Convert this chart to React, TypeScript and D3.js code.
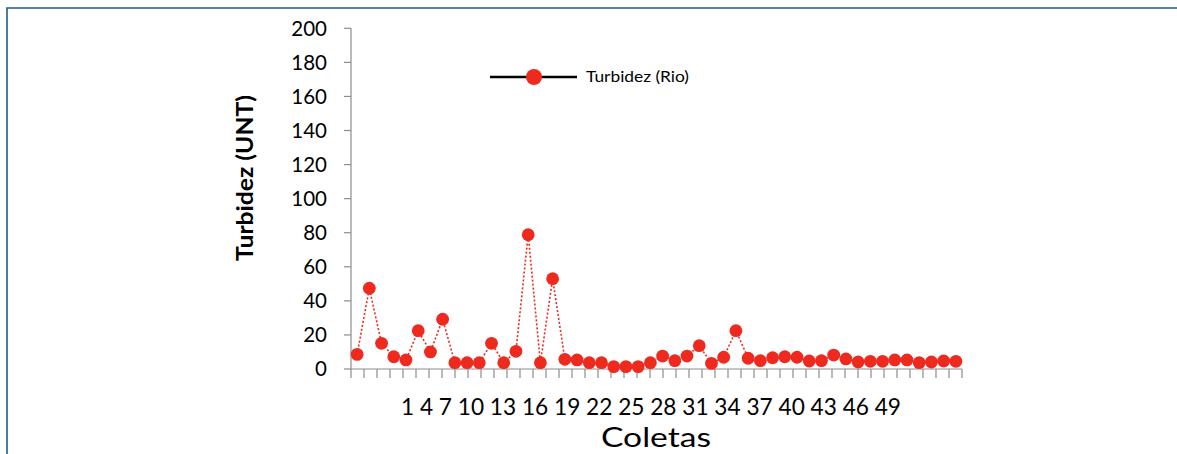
import React from "react";
import * as d3 from "d3";

const values: number[] = [
  8.6, 47.4, 15.1, 7.2, 5.3, 22.5, 10, 29.2, 3.7, 3.7,
  3.7, 15.1, 3.7, 10.4, 78.8, 3.7, 53, 5.7, 5.3, 3.7,
  3.7, 1.4, 1.4, 1.4, 3.7, 7.6, 4.9, 7.6, 13.7, 3.3,
  6.9, 22.5, 6.3, 4.9, 6.6, 7.2, 6.9, 4.7, 4.9, 8.2,
  5.9, 4.1, 4.5, 4.5, 5.3, 5.3, 3.7, 4.1, 4.7, 4.5,
];
const xTickLabels: string[] = [
  "1", "4", "7", "10", "13", "16", "19", "22", "25", "28", "31", "34", "37", "40", "43", "46", "49",
];
const yTicks: number[] = [0, 20, 40, 60, 80, 100, 120, 140, 160, 180, 200];
const tickCount = 48;
const seriesName = "Turbidez (Rio)";
const yTitle = "Turbidez (UNT)";
const xTitle = "Coletas";

const W = 1177;
const H = 454;
const x0 = 351;
const x1 = 962;
const yBottom = 369;
const yTop = 28.3;
const red = "#ee2a1f";
const axisColor = "#8c8c8c";
const font = "Lato, 'Open Sans', sans-serif";

export default function App() {
  const x = d3
    .scaleBand<number>()
    .domain(d3.range(values.length))
    .range([x0, x1]);
  const cx = (i: number) => (x(i) as number) + x.bandwidth() / 2;
  const y = d3.scaleLinear().domain([0, 200]).range([yBottom, yTop]);
  const tickX = d3.scaleLinear().domain([0, tickCount - 1]).range([x0, x1]);
  const line = d3
    .line<number>()
    .x((_, i) => cx(i))
    .y((d) => y(d));

  return (
    <svg
      width={W}
      height={H}
      style={{ position: "fixed", left: 0, top: 0, background: "#fff" }}
    >
      <rect x={0} y={0} width={W} height={H} fill="#fff" />
      <path
        d={`M7,${H + 5} L7,8 L${W + 5},8`}
        fill="none"
        stroke="#1f5b89"
        strokeWidth={1.6}
      />
      {/* Y axis */}
      <line x1={x0} x2={x0} y1={yTop} y2={yBottom} stroke={axisColor} strokeWidth={1.2} />
      {yTicks.map((t) => (
        <g key={t}>
          <line x1={x0 - 7} x2={x0} y1={y(t)} y2={y(t)} stroke={axisColor} strokeWidth={1.2} />
          <text
            x={327}
            y={y(t)}
            dy="0.36em"
            textAnchor="end"
            fontFamily={font}
            fontSize={20.5}
            fill="#000"
          >
            {t}
          </text>
        </g>
      ))}
      {/* X axis */}
      <line x1={x0} x2={x1} y1={yBottom} y2={yBottom} stroke={axisColor} strokeWidth={1.2} />
      {d3.range(tickCount).map((i) => (
        <line
          key={i}
          x1={tickX(i)}
          x2={tickX(i)}
          y1={yBottom}
          y2={yBottom + 9}
          stroke={axisColor}
          strokeWidth={1.2}
        />
      ))}
      <text
        x={651}
        y={415}
        textAnchor="middle"
        fontFamily={font}
        fontSize={22.5}
        textLength={500}
        lengthAdjust="spacingAndGlyphs"
        fill="#000"
      >
        {xTickLabels.join(" ")}
      </text>
      <text
        x={656}
        y={447}
        textAnchor="middle"
        fontFamily={font}
        fontSize={27}
        textLength={110}
        lengthAdjust="spacingAndGlyphs"
        fill="#000"
      >
        {xTitle}
      </text>
      <text
        transform={`translate(253,178) rotate(-90)`}
        textAnchor="middle"
        fontFamily={font}
        fontSize={22}
        fontWeight="bold"
        textLength={166}
        lengthAdjust="spacingAndGlyphs"
        fill="#000"
      >
        {yTitle}
      </text>
      {/* series */}
      <path
        d={line(values) || ""}
        fill="none"
        stroke={red}
        strokeWidth={1.6}
        strokeDasharray="2,2"
      />
      {values.map((v, i) => (
        <circle key={i} cx={cx(i)} cy={y(v)} r={6.4} fill={red} />
      ))}
      {/* legend */}
      <line x1={490} x2={577} y1={77} y2={77} stroke="#000" strokeWidth={2.6} />
      <circle cx={534} cy={77} r={8} fill={red} />
      <text
        x={586}
        y={77}
        dy="0.35em"
        fontFamily={font}
        fontSize={15.5}
        textLength={103}
        lengthAdjust="spacingAndGlyphs"
        fill="#000"
      >
        {seriesName}
      </text>
    </svg>
  );
}
